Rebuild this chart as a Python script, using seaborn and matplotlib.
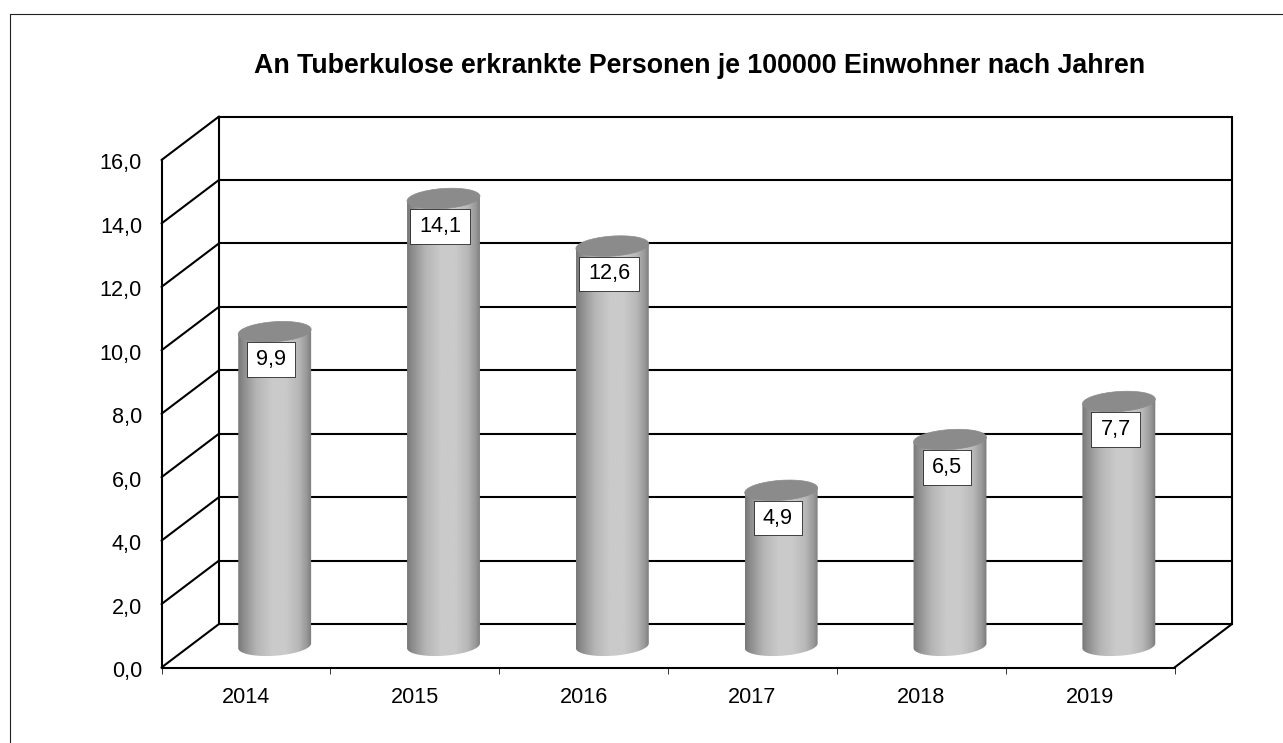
import numpy as np
import pandas as pd
import seaborn as sns
import matplotlib
matplotlib.use("Agg")
import matplotlib.pyplot as plt
from matplotlib.lines import Line2D
from matplotlib.patches import ConnectionPatch, Ellipse
from matplotlib.path import Path
from matplotlib.transforms import Affine2D, IdentityTransform, ScaledTranslation

YEARS = ["2014", "2015", "2016", "2017", "2018", "2019"]
CASES = [9.9, 14.1, 12.6, 4.9, 6.5, 7.7]
Y_TICKS = [0, 2, 4, 6, 8, 10, 12, 14, 16]
TITLE = "An Tuberkulose erkrankte Personen je 100000 Einwohner nach Jahren"

W, H = 1283, 743
sns.set_theme(style="white")
plt.rcParams["font.family"] = ["Liberation Sans", "DejaVu Sans"]
fig = plt.figure(figsize=(W / 100, H / 100), dpi=100, facecolor="white")


def px_axes(left, top, right, bottom, **kw):
    return fig.add_axes([left / W, 1 - bottom / H, (right - left) / W, (bottom - top) / H], **kw)


def label_box(x0, y0, width, height, mutation_size):
    px, py = 0.42 * mutation_size, 0.31 * mutation_size
    x0, x1, y0, y1 = x0 - px, x0 + width + px, y0 - py, y0 + height + py
    return Path([(x0, y0), (x1, y0), (x1, y1), (x0, y1), (x0, y0)], closed=True)


L, R, B, T = 161.5, 1174.5, 667.5, 160
DX, DY = 57.5, 43.5
UNIT = (B - T) / 16
FS = 15.6

# back wall
back = px_axes(L + DX, T - DY, R + DX, B - DY)
back.set_xlim(-0.5, 5.5)
back.set_ylim(0, 16)
back.hlines(Y_TICKS, -0.5, 5.5, color="black", lw=1.5, clip_on=False)
back.set_xticks([])
back.set_yticks([])
for s in ("top", "bottom"):
    back.spines[s].set_visible(False)
for s in ("left", "right"):
    back.spines[s].set_linewidth(1.5)
    back.spines[s].set_color("black")

# front axes
ax = px_axes(L, T, R, B)
ax.patch.set_visible(False)
ax.set_xlim(-0.5, 5.5)
ax.set_ylim(0, 16)
for s in ("top", "right"):
    ax.spines[s].set_visible(False)
for s in ("left", "bottom"):
    ax.spines[s].set_linewidth(1.5)
    ax.spines[s].set_color("black")
ax.set_yticks(Y_TICKS)
ax.set_yticklabels([f"{v:.1f}".replace(".", ",") for v in Y_TICKS], fontsize=FS, color="black")
ax.tick_params(axis="y", length=0, pad=14)
for lab in ax.get_yticklabels():
    lab.set_transform(lab.get_transform() + ScaledTranslation(0, -1.5 / 100, fig.dpi_scale_trans))
ax.set_xticks(np.arange(-0.5, 6, 1))
ax.set_xticklabels([])
ax.set_xticks(np.arange(len(YEARS)), minor=True)
ax.set_xticklabels(YEARS, minor=True, fontsize=FS, color="black")
ax.tick_params(axis="x", which="major", length=4, width=0.7, color="#333333", bottom=True)
ax.tick_params(axis="x", which="minor", length=0, pad=14, bottom=True)

# depth lines
for v in Y_TICKS:
    ax.add_artist(ConnectionPatch((-0.5, v), (-0.5, v), "data", "data", axesA=ax, axesB=back,
                                  color="black", lw=1.5))
ax.add_artist(ConnectionPatch((5.5, 0), (5.5, 0), "data", "data", axesA=ax, axesB=back,
                              color="black", lw=1.5))

# cylinders, half way into the depth
bar_ax = px_axes(L + DX / 2, T - DY / 2, R + DX / 2, B - DY / 2 + UNIT)
frame = pd.DataFrame({"Jahr": YEARS, "Fälle": CASES})
sns.barplot(data=frame, x="Jahr", y="Fälle", ax=bar_ax, color="#999999", saturation=1,
            width=73 / 168.67, linewidth=0)
bar_ax.set_xlim(-0.5, 5.5)
bar_ax.set_ylim(-1, 16)
bar_ax.set_xlabel("")
bar_ax.set_ylabel("")
bar_ax.set_zorder(3)
bar_ax.patch.set_visible(False)

ANGLE = np.deg2rad(4)
BH = 10.0
stops_x = [0, 0.08, 0.25, 0.45, 0.65, 0.82, 0.93, 1]
stops_v = [0.47, 0.56, 0.71, 0.79, 0.79, 0.72, 0.60, 0.48]
gradient = np.interp(np.linspace(0, 1, 128), stops_x, stops_v)[None, :]
fig.canvas.draw()
for bar, value in zip(bar_ax.containers[0], CASES):
    x0, w = bar.get_x(), bar.get_width()
    (px0, py0), (px1, py1) = bar_ax.transData.transform([(x0, 0), (x0 + w, value)])
    cx, a = (px0 + px1) / 2, (px1 - px0) / 2
    t = np.linspace(np.pi, 2 * np.pi, 60)
    ex = a * np.cos(t) * np.cos(ANGLE) - BH * np.sin(t) * np.sin(ANGLE)
    ey = a * np.cos(t) * np.sin(ANGLE) + BH * np.sin(t) * np.cos(ANGLE)
    outline = np.column_stack([cx + ex, py0 + ey])
    top = [(cx + a * np.cos(ANGLE), py1 + a * np.sin(ANGLE)), (cx - a * np.cos(ANGLE), py1 - a * np.sin(ANGLE))]
    body = Path(np.vstack([outline, top, outline[:1]]), closed=True)
    bar.set_visible(False)
    im = bar_ax.imshow(gradient, cmap="gray", vmin=0, vmax=1, aspect="auto", interpolation="bilinear",
                       extent=(x0, x0 + w, -1, value + 0.5), zorder=2)
    im.set_clip_path(body, IdentityTransform())
    bar_ax.add_patch(Ellipse((0, 0), 2 * a, 2 * BH, angle=4, facecolor="#8b8b8b", edgecolor="#8b8b8b", lw=0.5,
                             transform=Affine2D().translate(cx, py1), zorder=3, clip_on=False))
    label = f"{value:.1f}".replace(".", ",")
    bar_ax.annotate(label, (cx, py1), xycoords=IdentityTransform(), xytext=(-2.4, -20),
                    textcoords="offset points", ha="center", va="center", fontsize=FS, color="black", zorder=4,
                    bbox=dict(boxstyle=label_box, facecolor="white", edgecolor="black", linewidth=0.5))
bar_ax.set_xlim(-0.5, 5.5)
bar_ax.set_ylim(-1, 16)
bar_ax.set_axis_off()

fig.text(700 / W, 1 - 66 / H, TITLE, ha="center", va="center", fontsize=19.3, fontweight="bold", color="black")
fig.add_artist(Line2D([10 / W, 10 / W, 1], [0, 1 - 13.5 / H, 1 - 13.5 / H], color="#222222", lw=0.8,
                      transform=fig.transFigure))

fig.savefig("out.png", dpi=100, facecolor="white")
